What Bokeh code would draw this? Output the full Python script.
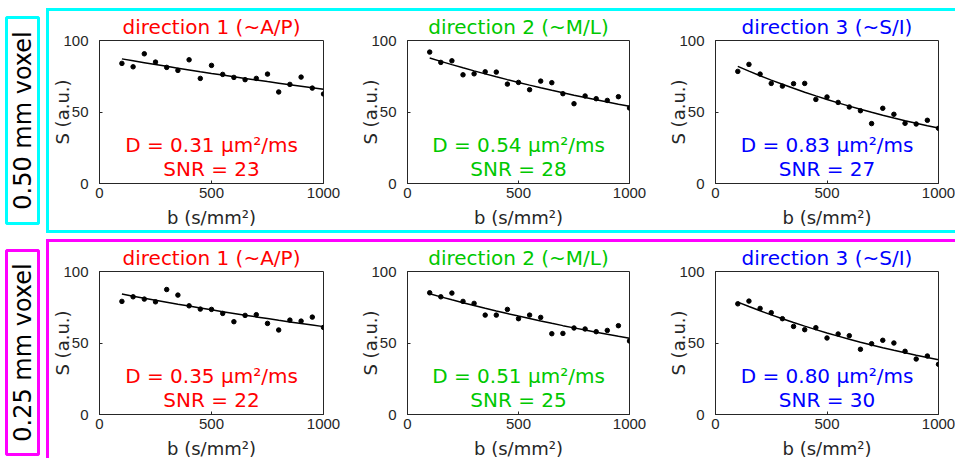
import numpy as np
from bokeh.plotting import figure
from bokeh.layouts import row, column
from bokeh.models import FixedTicker, Range1d, Spacer, Title
from bokeh.core.properties import value
from bokeh.embed import file_html
from bokeh.resources import INLINE

# ---------------- data ----------------
b_values = [100, 150, 200, 250, 300, 350, 400, 450, 500, 550,
            600, 650, 700, 750, 800, 850, 900, 950, 1000]

# 0.50 mm voxel
s050_dir1 = [84.0, 81.6, 90.7, 84.9, 81.2, 79.1, 86.5, 73.5, 82.6, 76.3,
             74.2, 72.6, 73.5, 76.5, 64.0, 69.3, 74.4, 66.7, 62.6]
s050_dir2 = [91.9, 84.7, 85.8, 76.0, 76.7, 78.1, 77.9, 69.5, 70.7, 65.6,
             71.6, 70.5, 62.8, 55.8, 61.2, 59.3, 58.1, 60.7, 52.8]
s050_dir3 = [78.4, 83.3, 76.5, 70.0, 68.1, 69.8, 70.0, 58.8, 60.5, 56.7,
             53.5, 50.9, 41.9, 52.6, 48.4, 42.1, 41.6, 44.2, 38.6]
# 0.25 mm voxel
s025_dir1 = [79.1, 82.3, 80.7, 78.8, 87.4, 83.5, 76.0, 73.7, 73.5, 70.7,
             64.9, 69.3, 69.8, 63.7, 59.1, 66.0, 65.3, 68.1, 60.9]
s025_dir2 = [85.1, 82.3, 84.9, 79.1, 77.7, 69.5, 69.5, 73.5, 67.0, 69.5,
             67.9, 56.5, 56.7, 60.5, 59.8, 57.9, 58.8, 62.1, 51.4]
s025_dir3 = [77.4, 79.3, 74.2, 71.2, 67.0, 61.6, 59.3, 60.7, 53.5, 56.3,
             55.1, 45.6, 49.5, 51.9, 50.0, 44.2, 38.8, 40.9, 35.1]

# fitted mono-exponential parameters S = S0 * exp(-b D)
s0_050 = [89.9, 92.6, 89.0]
d_050 = [0.31, 0.54, 0.83]
snr_050 = [23, 28, 27]
s0_025 = [87.2, 88.8, 85.1]
d_025 = [0.35, 0.51, 0.80]
snr_025 = [22, 25, 30]

titles = ["direction 1 (~A/P)", "direction 2 (~M/L)", "direction 3 (~S/I)"]
colors = ["#FF0000", "#00C800", "#0000FF"]
row_labels = ["0.50 mm voxel", "0.25 mm voxel"]
row_colors = ["#00FFFF", "#FF00FF"]
x_ticks = [0, 500, 1000]
y_ticks = [0, 50, 100]

AX = "#262626"


def panel(svals, s0, d, snr, title, color, L, W, R, top, fh, bottom):
    p = figure(frame_width=W, frame_height=fh,
               min_border_left=L, min_border_right=R,
               min_border_top=top, min_border_bottom=bottom,
               x_range=Range1d(0, 1000), y_range=Range1d(0, 100),
               output_backend="svg", toolbar_location=None)
    p.title = Title(text=title, text_color=color, text_font="DejaVu Sans",
                    text_font_size="20px", text_font_style="normal",
                    align="center", vertical_align="top", standoff=0)
    p.grid.visible = False
    p.outline_line_color = AX
    p.outline_line_width = 1
    p.background_fill_color = "white"
    p.border_fill_color = "white"

    for ax in (p.xaxis[0], p.yaxis[0]):
        ax.axis_line_color = AX
        ax.major_tick_line_color = AX
        ax.major_tick_in = 3
        ax.major_tick_out = 0
        ax.minor_tick_line_color = None
        ax.major_label_text_font = "Liberation Sans"
        ax.major_label_text_font_size = "15px"
        ax.major_label_text_color = AX
        ax.axis_label_text_font = "DejaVu Sans"
        ax.axis_label_text_font_size = "18px"
        ax.axis_label_text_font_style = "normal"
        ax.axis_label_text_color = AX
    p.xaxis.ticker = FixedTicker(ticks=x_ticks)
    p.yaxis.ticker = FixedTicker(ticks=y_ticks)
    p.xaxis.axis_label = "b (s/mm²)"
    p.yaxis.axis_label = "S (a.u.)"
    p.xaxis.major_label_standoff = 4
    p.xaxis.axis_label_standoff = 6
    p.yaxis.major_label_standoff = 11
    p.yaxis.axis_label_standoff = -13

    bb = np.array(b_values, dtype=float)
    fit = s0 * np.exp(-bb * d / 1000.0)
    p.line(bb, fit, line_color="black", line_width=1.5)
    p.scatter(b_values, svals, size=4.5, color="black")

    p.text(x=[500], y=[27], text=[f"D = {d:.2f} µm²/ms"],
           text_color=color, text_font=value("DejaVu Sans"),
           text_font_size="20px", text_align="center", text_baseline="middle")
    p.text(x=[500], y=[10], text=[f"SNR = {snr}"],
           text_color=color, text_font=value("DejaVu Sans"),
           text_font_size="20px", text_align="center", text_baseline="middle")
    return p


def label_fig(text, color, height, top, fh, bottom):
    f = figure(width=42, height=height, frame_width=32, frame_height=fh,
               min_border_left=6, min_border_right=4,
               min_border_top=top, min_border_bottom=bottom,
               x_range=Range1d(0, 1), y_range=Range1d(0, 1),
               output_backend="svg", toolbar_location=None)
    f.axis.visible = False
    f.grid.visible = False
    f.border_fill_color = "white"
    f.outline_line_color = color
    f.outline_line_width = 3
    f.outline_line_alpha = 1
    f.text(x=[0.5], y=[0.5], text=[text], angle=np.pi / 2,
           text_color="black", text_font=value("DejaVu Sans"),
           text_font_size="24px", text_align="center", text_baseline="middle")
    return f


geom = [(50, 224, 34), (50, 222, 36), (50, 223, 17)]

rows_data = [
    ([s050_dir1, s050_dir2, s050_dir3], s0_050, d_050, snr_050),
    ([s025_dir1, s025_dir2, s025_dir3], s0_025, d_025, snr_025),
]

rows_out = []
for ri, (svs, s0s, ds, snrs) in enumerate(rows_data):
    c = row_colors[ri]
    if ri == 0:
        bottom = 46
        lab = label_fig(row_labels[ri], c, 224, 9, 206, 9)
        border = {"border-top": f"3px solid {c}",
                  "border-left": f"3px solid {c}",
                  "border-bottom": f"3px solid {c}"}
    else:
        bottom = 44
        lab = label_fig(row_labels[ri], c, 219, 11, 204, 4)
        border = {"border-top": f"3px solid {c}",
                  "border-left": f"3px solid {c}"}
    panels = []
    for ci in range(3):
        L, W, R = geom[ci]
        panels.append(panel(svs[ci], s0s[ci], ds[ci], snrs[ci], titles[ci],
                            colors[ci], L, W, R, 29, 143, bottom))
    group = row(*panels, spacing=0, styles=border)
    rows_out.append(row(lab, Spacer(width=4), group, spacing=0))

layout = column(Spacer(height=8), rows_out[0], Spacer(height=6), rows_out[1],
                spacing=0)

open("out.html", "w").write(file_html(layout, INLINE))
